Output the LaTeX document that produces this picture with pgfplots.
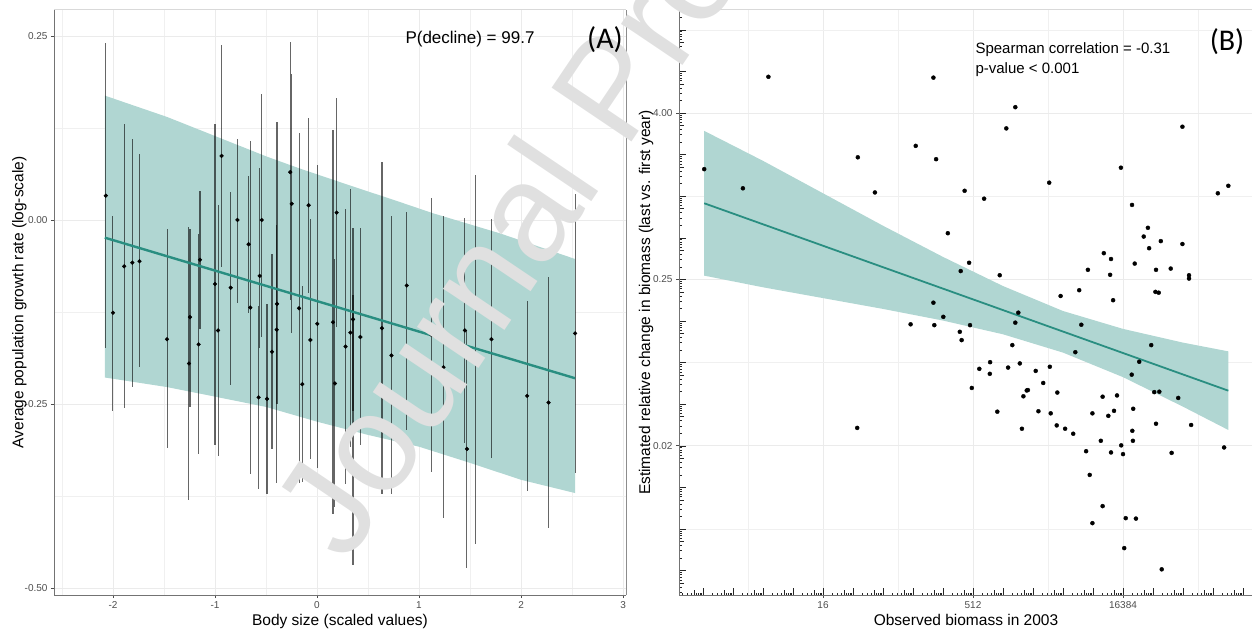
\documentclass[border=0pt]{standalone}
\usepackage{fontspec}
\setmainfont{Liberation Sans}
\newfontfamily\carlito{Carlito}
\usepackage{pgfplots}
\usepackage{pgfplotstable}
\pgfplotsset{compat=1.18}
\definecolor{ribbon}{RGB}{176,214,210}
\definecolor{fitline}{RGB}{41,142,129}
\definecolor{ticktxt}{RGB}{77,77,77}

\pgfplotstableread{
x y lo hi
-2.07 0.033 -0.174 0.240
-2.00 -0.126 -0.260 0.005
-1.89 -0.063 -0.255 0.130
-1.81 -0.058 -0.227 0.110
-1.74 -0.056 -0.200 0.089
-1.47 -0.162 -0.310 -0.012
-1.255 -0.195 -0.380 -0.010
-1.245 -0.132 -0.254 -0.012
-1.16 -0.169 -0.318 -0.019
-1.147 -0.054 -0.148 0.040
-1.00 -0.087 -0.306 0.130
-0.97 -0.150 -0.320 0.020
-0.935 0.087 -0.064 0.238
-0.846 -0.092 -0.224 0.038
-0.78 0.000 -0.113 0.110
-0.67 -0.033 -0.126 0.060
-0.654 -0.119 -0.345 0.107
-0.572 -0.241 -0.365 -0.117
-0.562 -0.076 -0.174 0.070
-0.542 0.000 -0.159 0.171
-0.49 -0.243 -0.372 -0.114
-0.441 -0.179 -0.311 -0.046
-0.395 -0.149 -0.358 -0.007
-0.392 -0.114 -0.250 0.133
-0.262 0.065 -0.109 0.242
-0.248 0.022 -0.154 0.198
-0.176 -0.120 -0.358 0.118
-0.144 -0.223 -0.356 -0.090
-0.082 0.020 -0.099 0.139
-0.065 -0.163 -0.325 0.001
0.003 -0.141 -0.337 0.075
0.157 -0.139 -0.400 0.122
0.176 -0.222 -0.390 -0.053
0.193 0.010 -0.145 0.166
0.28 -0.172 -0.359 0.015
0.327 -0.153 -0.308 0.042
0.353 -0.135 -0.260 -0.011
0.353 -0.285 -0.469 -0.102
0.425 -0.159 -0.306 -0.011
0.637 -0.147 -0.372 0.079
0.73 -0.184 -0.372 0.005
0.88 -0.089 -0.285 0.011
1.12 -0.156 -0.342 0.030
1.24 -0.200 -0.405 0.005
1.45 -0.150 -0.303 0.003
1.47 -0.311 -0.473 -0.150
1.55 -0.190 -0.440 0.061
1.71 -0.162 -0.324 0.001
2.06 -0.239 -0.368 -0.110
2.27 -0.248 -0.418 -0.077
2.53 -0.154 -0.344 0.035
}\dataA

\pgfplotstableread{
x y
0.04 0.65
1.33 0.19
2.18 2.87
5.16 0.935
5.73 0.09
7.09 1.21
7.68 2.85
7.77 0.89
8.16 -0.89
7.68 -2.56
8.01 -2.9
6.92 -3.08
7.71 -3.1
5.14 -5.57
10.41 2.14
10.11 1.63
11.54 0.325
8.72 0.13
9.37 -0.06
13.93 0.685
14.3 -0.21
15.98 1.67
17.16 0.07
17.51 0.25
14.83 -0.76
14.69 -0.97
15.26 -1.08
14.87 -1.25
15.98 -1.15
13.36 -1.37
13.6 -1.51
8.87 -1.6
8.59 -1.8
9.89 -1.9
12.83 -1.77
13.57 -1.89
14.39 -1.62
15.1 -1.77
15.59 -1.74
16.2 -1.9
16.2 -1.98
11.92 -2.4
12.54 -2.26
13.67 -2.5
15.08 -2.3
15.19 -2.32
10.51 -2.8
8.56 -3.26
8.62 -3.46
8.9 -3.1
10.41 -3.04
10.31 -3.58
12.61 -3.09
12.41 -3.75
14.94 -3.58
14.54 -3.98
14.29 -4.29
15.04 -4.71
15.21 -4.7
15.84 -4.85
9.21 -4.15
9.57 -3.99
9.56 -4.27
10.17 -4.12
10.56 -4.02
11.09 -4.2
11.56 -4.1
11.34 -4.49
8.96 -4.61
10.68 -4.81
10.79 -4.67
10.83 -4.66
11.81 -4.72
13.32 -4.82
13.8 -4.79
9.81 -5.18
11.18 -5.17
11.59 -5.22
12.98 -5.22
13.7 -5.16
13.51 -5.28
14.34 -5.11
10.63 -5.59
11.79 -5.51
12.07 -5.59
12.34 -5.71
14.31 -5.64
14.33 -5.88
15.1 -5.47
16.27 -5.5
13.26 -5.88
13.94 -5.99
12.77 -6.13
13.6 -6.16
14.0 -6.2
15.62 -6.17
17.37 -6.04
12.89 -6.7
13.32 -7.45
12.98 -7.86
14.09 -7.74
14.43 -7.75
14.04 -8.46
15.29 -8.97
}\dataB

% log ticks positions (log10 steps placed on log2 axis)
\def\shortx{-99}\def\shorty{-99}\def\midx{-99}\def\midy{-99}
\foreach \p in {-1,...,18}{%
  \pgfmathparse{\p+0.69897}\xdef\midx{\midx,\pgfmathresult}%
  \foreach \k in {0.30103,0.47712,0.60206,0.77815,0.84510,0.90309,0.95424}{%
    \pgfmathparse{\p+\k}\xdef\shortx{\shortx,\pgfmathresult}}}
\foreach \p in {-10,...,4}{%
  \pgfmathparse{\p+0.69897}\xdef\midy{\midy,\pgfmathresult}%
  \foreach \k in {0.30103,0.47712,0.60206,0.77815,0.84510,0.90309,0.95424}{%
    \pgfmathparse{\p+\k}\xdef\shorty{\shorty,\pgfmathresult}}}

\begin{document}
\begin{tikzpicture}
\path[use as bounding box] (0,0) rectangle (1252pt,630pt);
\clip (0,0) rectangle (1252pt,630pt);

% ---------------- Panel A ----------------
\begin{axis}[name=A,
  at={(54pt,35pt)}, anchor=south west, width=572pt, height=585pt, scale only axis,
  xmin=-2.578, xmax=3.029, ymin=-0.5095, ymax=0.2853,
  xtick={-2,-1,0,1,2,3}, xticklabels={-2,-1,0,1,2,3},
  ytick={-0.5,-0.25,0,0.25}, yticklabels={-0.50,-0.25,0.00,0.25},
  minor xtick={-2.5,-1.5,-0.5,0.5,1.5,2.5}, minor ytick={-0.375,-0.125,0.125},
  grid=both, major grid style={black!8, line width=0.9pt}, minor grid style={black!6, line width=0.45pt},
  axis line style={draw=none},
  tick align=outside, tickpos=left, major tick length=3pt, minor tick length=0pt,
  tick style={black!70, line width=0.6pt},
  tick label style={font=\fontsize{10}{12}\selectfont, text=ticktxt},
]
\addplot[fill=ribbon, draw=none] coordinates {
 (-2.08,0.169) (-1.47,0.140) (-0.98,0.113) (-0.49,0.086) (-0.17,0.070) (0.3,0.048) (0.8,0.025) (1.14,0.009) (1.79,-0.018) (2.53,-0.053)
 (2.53,-0.371) (2.0,-0.353) (1.5,-0.330) (1.0,-0.308) (0.5,-0.292) (0,-0.274) (-0.5,-0.254) (-1.0,-0.240) (-1.47,-0.227) (-2.08,-0.214)} -- cycle;
\addplot[only marks, mark=*, mark size=1.9pt, black,
  error bars/.cd, y dir=both, y explicit, error mark=none,
  error bar style={black, opacity=0.6, line width=1.05pt}]
  table[x=x, y=y, y error plus expr=\thisrow{hi}-\thisrow{y}, y error minus expr=\thisrow{y}-\thisrow{lo}] {\dataA};
\addplot[fitline, line width=2.4pt] coordinates {(-2.08,-0.024) (2.53,-0.215)};
\end{axis}
\draw[black!55, line width=1pt] (A.north west) -- (A.south west) -- (A.south east);
\draw[black!45, line width=0.8pt] (A.south east) -- (A.north east);
\draw[black!15, line width=1pt] (A.north west) -- (A.north east);

% ---------------- Panel B ----------------
\begin{axis}[name=B,
  at={(679pt,35pt)}, anchor=south west, width=574pt, height=585pt, scale only axis,
  xmin=-0.8, xmax=18.333, ymin=-9.587, ymax=4.476,
  xtick={4,9,14}, xticklabels={16,512,16384},
  ytick={-6,-2,2}, yticklabels={0.02,0.25,4.00},
  minor xtick={1.5,6.5,11.5,16.5}, minor ytick={-8,-4,0,4},
  grid=both, major grid style={black!8, line width=0.9pt}, minor grid style={black!6, line width=0.45pt},
  axis line style={draw=none},
  tick align=outside, tickpos=left, major tick length=3pt, minor tick length=0pt,
  tick style={black!70, line width=0.6pt},
  tick label style={font=\fontsize{10}{12}\selectfont, text=ticktxt},
]
\addplot[fill=ribbon, draw=none] coordinates {
 (0.04,1.57) (2,0.85) (4,0.07) (6,-0.71) (8,-1.46) (10,-2.16) (12,-2.76) (14,-3.19) (16,-3.52) (17.51,-3.73)
 (17.51,-5.62) (16,-5.06) (14,-4.35) (12,-3.76) (10,-3.32) (8,-2.99) (6,-2.71) (4,-2.45) (2,-2.19) (0.04,-1.91)} -- cycle;
\addplot[fitline, line width=1.8pt] coordinates {(0.04,-0.17) (17.51,-4.675)};
\addplot[only marks, mark=*, mark size=2pt, black] table[x=x, y=y] {\dataB};
\end{axis}
% log ticks overlay
\begin{axis}[
  at={(679pt,35pt)}, anchor=south west, width=574pt, height=585pt, scale only axis,
  xmin=-0.8, xmax=18.333, ymin=-9.587, ymax=4.476,
  axis line style={draw=none},
  xtick={-1,...,18}, ytick={-10,...,4},
  minor xtick/.expand once=\shortx, minor ytick/.expand once=\shorty,
  extra x ticks/.expand once=\midx, extra y ticks/.expand once=\midy,
  xticklabels={}, yticklabels={},
  extra x tick labels={}, extra y tick labels={},
  extra tick style={major tick length=5pt},
  tick align=inside, tickpos=left, major tick length=7pt, minor tick length=2.5pt,
  tick style={black!85, line width=0.5pt},
]
\addplot[draw=none] coordinates {(0,0)};
\end{axis}
\draw[black!55, line width=1pt] (B.north west) -- (B.south west) -- (B.south east);
\draw[black!15, line width=1pt] (B.north west) -- (B.north east);

% watermark
\node[rotate=56, anchor=base west, text=black!12, font=\fontsize{140}{140}\selectfont] at (345pt,63pt) {Journal Pre-proof};

% ---------------- texts ----------------
\node[anchor=base, font=\fontsize{15.5}{18}\selectfont] at (340pt,5pt) {Body size (scaled values)};
\node[anchor=base, font=\fontsize{15.5}{18}\selectfont] at (966pt,5pt) {Observed biomass in 2003};
\node[rotate=90, anchor=base, font=\fontsize{15.5}{18}\selectfont] at (23.3pt,327.5pt) {Average population growth rate (log-scale)};
\node[rotate=90, anchor=base, font=\fontsize{15.5}{18}\selectfont] at (650pt,327.5pt) {Estimated relative change in biomass (last vs. first year)};
\node[anchor=base, font=\fontsize{17}{20}\selectfont] at (470pt,586pt) {P(decline) = 99.7};
\node[anchor=base west, font=\fontsize{15}{18}\selectfont] at (972pt,576pt) {Spearman correlation = -0.31};
\node[anchor=base west, font=\fontsize{15}{18}\selectfont] at (972pt,556pt) {p-value < 0.001};
\node[font=\carlito\fontsize{30}{34}\selectfont] at (605pt,590pt) {(A)};
\node[font=\carlito\fontsize{30}{34}\selectfont] at (1227pt,588pt) {(B)};
\end{tikzpicture}
\end{document}
